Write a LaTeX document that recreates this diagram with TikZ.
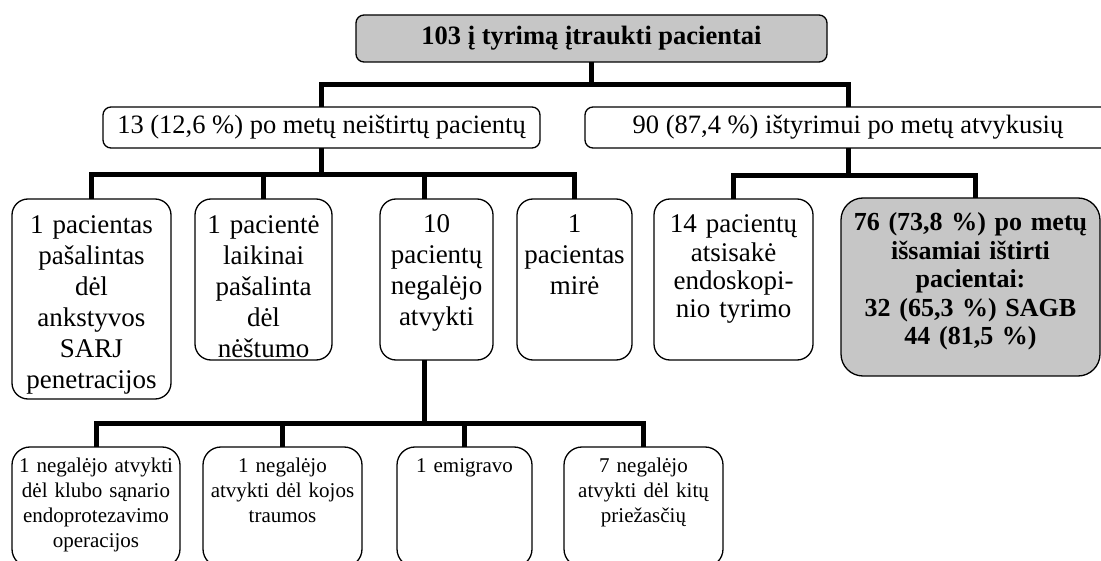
\documentclass[tikz,border=0pt]{standalone}
\usepackage{fontspec}
\setmainfont{Liberation Serif}
\definecolor{boxgray}{RGB}{198,198,198}
\begin{document}
\begin{tikzpicture}[x=1pt,y=-1pt,
  box/.style={draw, line width=1.3pt, outer sep=0pt, fill=white, align=center},
  conn/.style={line width=5pt, line join=miter},
  headbox/.style={box, fill=boxgray, rounded corners=8pt, inner sep=0pt, font=\fontsize{26.5}{30}\selectfont\bfseries},
  midbox/.style={box, rounded corners=8pt, inner sep=0pt, font=\fontsize{26.5}{30}\selectfont},
  tallbox/.style={box, anchor=north, inner sep=0pt, rounded corners=16pt, font=\fontsize{27}{31}\selectfont},
  narrowbox/.style={box, anchor=north, inner sep=0pt, rounded corners=16pt, font=\fontsize{27}{28.3}\selectfont},
  lowbox/.style={box, anchor=north, inner sep=0pt, rounded corners=18pt, font=\fontsize{21}{25}\selectfont}
]
\fill[white] (0,0) rectangle (1101,561);
\useasboundingbox (0,0) rectangle (1101,561);

% top
\node[headbox, minimum width=471pt, minimum height=47pt] (T) at (591.5,38.5) {103 į tyrimą įtraukti pacientai};

% level 2
\node[midbox, minimum width=437pt, minimum height=41pt] (L) at (321.5,127.5) {13 (12,6 \%) po metų neištirtų pacientų};
\node[midbox, minimum width=526pt, minimum height=41pt] (R) at (848,127.5) {90 (87,4 \%) ištyrimui po metų atvykusių};

% level 3
\node[tallbox, text width=159pt, text height=35pt, text depth=165pt] (A) at (91.5,199) {1 pacientas\\pašalintas\\dėl\\ankstyvos\\SARJ\\penetracijos};
\node[tallbox, text width=137pt, text height=35pt, text depth=126pt] (B) at (263.5,199) {1 pacientė\\laikinai\\pašalinta\\dėl\\nėštumo};
\node[tallbox, text width=113pt, text height=34pt, text depth=127pt] (C) at (436.5,199) {10\\pacientų\\negalėjo\\atvykti};
\node[tallbox, text width=115pt, text height=34pt, text depth=127pt] (D) at (574.5,199) {1\\pacientas\\mirė};
\node[narrowbox, text width=159pt, text height=34pt, text depth=127pt] (E) at (733.5,199) {14 pacientų\\atsisakė\\endoskopi-\\nio tyrimo};
\node[narrowbox, fill=boxgray, rounded corners=22pt, text width=259pt, text height=33pt, text depth=145pt, font=\fontsize{26}{28.5}\selectfont\bfseries] (F) at (970.5,198) {76 (73,8 \%) po metų\\išsamiai ištirti\\pacientai:\\32 (65,3 \%) SAGB\\44 (81,5 \%)};

% level 4
\node[lowbox, text width=168pt, text height=25pt, text depth=95pt] (G) at (96,447) {1 negalėjo atvykti\\dėl klubo sąnario\\endoprotezavimo\\operacijos};
\node[lowbox, text width=159pt, text height=25pt, text depth=95pt] (H) at (282.5,447) {1 negalėjo\\atvykti dėl kojos\\traumos};
\node[lowbox, text width=135pt, text height=25pt, text depth=95pt] (I) at (464.5,447) {1 emigravo};
\node[lowbox, text width=159pt, text height=25pt, text depth=95pt] (J) at (643.5,447) {7 negalėjo\\atvykti dėl kitų\\priežasčių};

% connectors
\draw[conn] (T.south) -- ++(0,22.5) coordinate (tj);
\draw[conn] (L.north) |- (tj) -| (R.north);

\draw[conn] (L.south) -- ++(0,27) coordinate (lj);
\draw[conn] (A.north) |- (lj) -| (D.north);
\draw[conn] (B.north) -- (B.north |- lj);
\draw[conn] ([xshift=-12pt]C.north) -- ([xshift=-12pt]C.north |- lj);

\draw[conn] (R.south) -- ++(0,28) coordinate (rj);
\draw[conn] (E.north) |- (rj) -| ([xshift=4.5pt]F.north);

\draw[conn] ([xshift=-12pt]C.south) -- ++(0,63) coordinate (cj);
\draw[conn] (G.north) |- (cj) -| (J.north);
\draw[conn] (H.north) -- (H.north |- cj);
\draw[conn] (I.north) -- (I.north |- cj);
\end{tikzpicture}
\end{document}
